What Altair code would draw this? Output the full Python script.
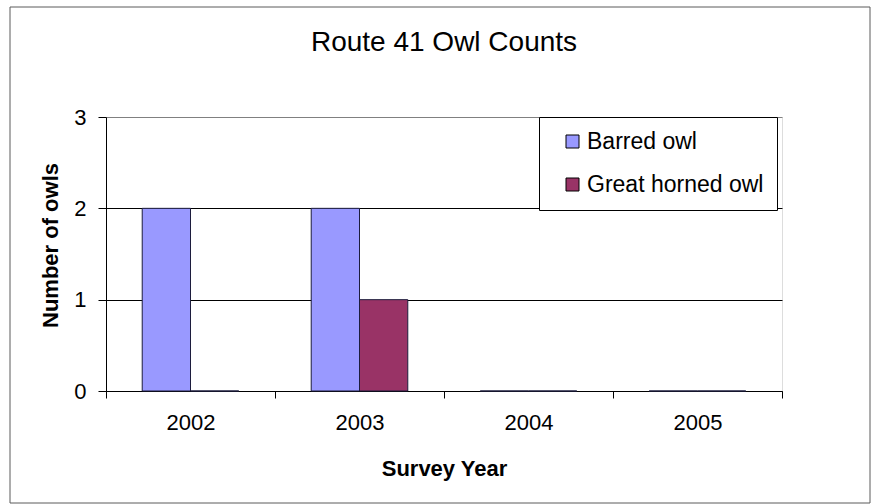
import altair as alt
import pandas as pd

# Survey data: owls counted per year on Route 41
years = ["2002", "2003", "2004", "2005"]
species = ["Barred owl", "Great horned owl"]
barred_owl = [2, 2, 0, 0]
great_horned_owl = [0, 1, 0, 0]
species_colors = ["#9999FF", "#993366"]
y_ticks = [0, 1, 2, 3]

rows = []
for name, counts in zip(species, [barred_owl, great_horned_owl]):
    for year, count in zip(years, counts):
        rows.append({"year": year, "species": name, "owls": count})
df = pd.DataFrame(rows)

FONT = "Liberation Sans"

bars = alt.Chart(df).mark_bar(stroke="#1c1c3c", strokeWidth=1).encode(
    x=alt.X(
        "year:N",
        sort=years,
        scale=alt.Scale(paddingInner=0, paddingOuter=0),
        axis=alt.Axis(
            title="Survey Year",
            labelAngle=0,
            labelFont=FONT,
            labelFontSize=22,
            labelColor="black",
            labelPadding=14,
            tickSize=7,
            tickColor="black",
            tickBand="extent",
            domainColor="black",
            titleFont=FONT,
            titleFontSize=22,
            titleFontWeight="bold",
            titleColor="black",
            titleBaseline="alphabetic",
            titleY=84,
            grid=False,
        ),
    ),
    xOffset=alt.XOffset(
        "species:N",
        sort=species,
        scale=alt.Scale(paddingInner=0, paddingOuter=0.75),
    ),
    y=alt.Y(
        "owls:Q",
        scale=alt.Scale(domain=[0, 3], nice=False),
        axis=alt.Axis(
            title="Number of owls",
            values=y_ticks,
            format="d",
            labelFont=FONT,
            labelFontSize=22,
            labelColor="black",
            labelPadding=12,
            tickSize=8,
            tickColor="black",
            domainColor="black",
            grid=True,
            gridColor=alt.condition(
                "datum.value == 3", alt.value("#808080"), alt.value("black")
            ),
            gridWidth=1,
            titleFont=FONT,
            titleFontSize=22,
            titleFontWeight="bold",
            titleColor="black",
            titleBaseline="alphabetic",
            titleX=-49,
            titleY=128,
        ),
    ),
    color=alt.Color(
        "species:N",
        sort=species,
        scale=alt.Scale(domain=species, range=species_colors),
        legend=alt.Legend(
            title=None,
            orient="none",
            legendX=433,
            legendY=0,
            fillColor="white",
            strokeColor="black",
            padding=13,
            symbolType="square",
            symbolSize=169,
            symbolStrokeColor="black",
            symbolStrokeWidth=1,
            symbolOffset=9,
            labelOffset=3,
            labelFont=FONT,
            labelFontSize=23,
            labelColor="black",
            labelLimit=400,
            rowPadding=19,
        ),
    ),
)

# Thin border around the whole chart area
frame = alt.Chart(alt.Data(values=[{"frame": 1}])).mark_rect(
    filled=False, stroke="#5a5a5a", strokeWidth=1
).encode(
    x=alt.value(-96),
    x2=alt.value(764),
    y=alt.value(-110),
    y2=alt.value(386),
)

chart = (
    alt.layer(frame, bars)
    .properties(
        width=676,
        height=274,
        title=alt.TitleParams(
            "Route 41 Owl Counts",
            font=FONT,
            fontSize=28,
            fontWeight="normal",
            color="black",
            anchor="middle",
            frame="group",
            baseline="alphabetic",
            offset=-72,
        ),
        autosize=alt.AutoSizeParams(type="none"),
        padding={"left": 106, "top": 117, "right": 95, "bottom": 113},
    )
    .configure_view(fill="#C0C0C0", stroke="#808080", strokeWidth=1)
    .configure(background="white")
)

chart.save("out.html", embed_options={"renderer": "svg", "actions": False})
